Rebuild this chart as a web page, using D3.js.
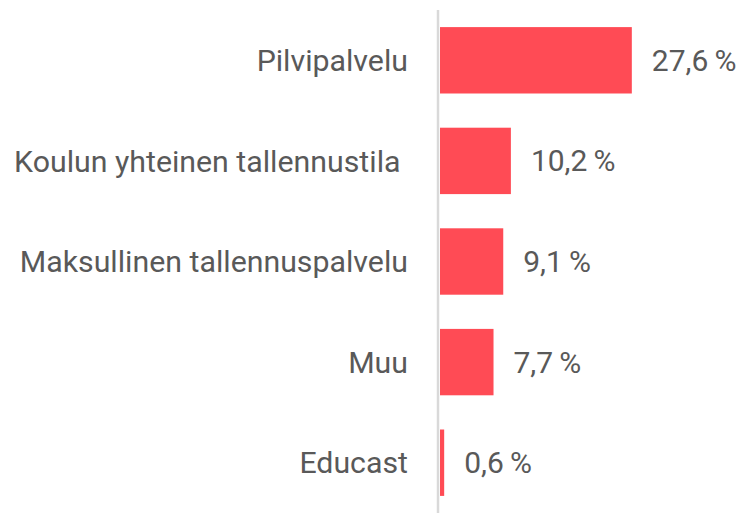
<!DOCTYPE html>
<html>
<head>
<meta charset="utf-8">
<script src="https://cdn.jsdelivr.net/npm/d3@7"></script>
<style>
  body { margin: 0; background: #fff; }
  text { font-family: Roboto, sans-serif; fill: #595959; }
</style>
</head>
<body>
<div id="chart"></div>
<script>
// categories and values
const categories = ["Pilvipalvelu", "Koulun yhteinen tallennustila ", "Maksullinen tallennuspalvelu", "Muu", "Educast"];
const values = [27.6, 10.2, 9.1, 7.7, 0.6];
const valueLabels = ["27,6\u2009%", "10,2\u2009%", "9,1\u2009%", "7,7\u2009%", "0,6\u2009%"];

const width = 740, height = 513;

const svg = d3.select("#chart").append("svg")
  .attr("width", width)
  .attr("height", height);

// x scale, 0 sits at the axis line
const x = d3.scaleLinear().domain([0, 40]).range([440, 718]);

const y = d3.scaleBand()
  .domain(categories)
  .range([10, 513])
  .paddingInner(0.34)
  .paddingOuter(0.17);

const rows = categories.map((c, i) => ({ cat: c, val: values[i], label: valueLabels[i] }));

svg.selectAll("rect.bar")
  .data(rows)
  .enter()
  .append("rect")
  .attr("class", "bar")
  .attr("x", x(0))
  .attr("y", d => y(d.cat))
  .attr("width", d => x(d.val) - x(0))
  .attr("height", y.bandwidth())
  .style("fill", "#ff4b55");

// vertical axis line
svg.append("line")
  .attr("x1", 438).attr("x2", 438)
  .attr("y1", 10).attr("y2", height)
  .style("stroke", "#d9d9d9")
  .style("stroke-width", 2.5);

// category labels (the second one keeps its trailing space)
svg.selectAll("text.cat")
  .data(rows)
  .enter()
  .append("text")
  .attr("class", "cat")
  .attr("x", 408)
  .attr("y", d => y(d.cat) + y.bandwidth() / 2)
  .attr("dy", "0.35em")
  .attr("text-anchor", "end")
  .style("font-size", "30.3px")
  .style("white-space", "pre")
  .text(d => d.cat);

// value labels
svg.selectAll("text.val")
  .data(rows)
  .enter()
  .append("text")
  .attr("class", "val")
  .attr("x", d => x(d.val) + 20)
  .attr("y", d => y(d.cat) + y.bandwidth() / 2)
  .attr("dy", "0.35em")
  .style("font-size", "30px")
  .text(d => d.label);
</script>
</body>
</html>
